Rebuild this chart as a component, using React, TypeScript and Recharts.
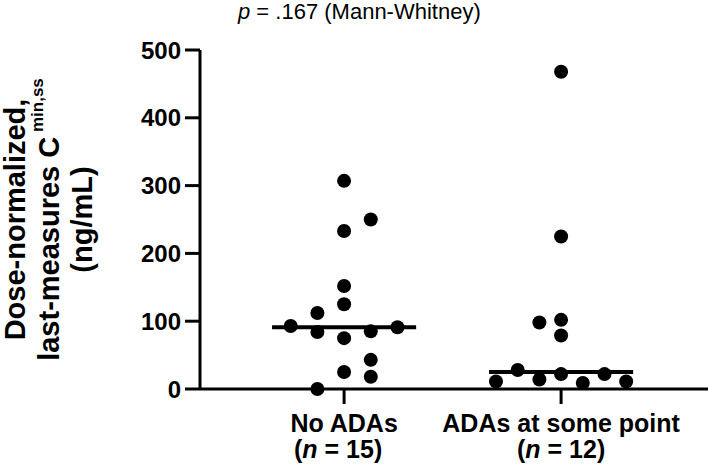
import { ReferenceLine, Scatter, ScatterChart, XAxis, YAxis } from 'recharts';

const FONT = '"Liberation Sans", Arial, Helvetica, sans-serif';

const GROUPS = ['No ADAs', 'ADAs at some point'];
const GROUP_N = [15, 12];
const Y_TICKS = [0, 100, 200, 300, 400, 500];

// values; column = horizontal slot of the dot within its group
const noAdaValues = [307, 250, 233, 152, 125, 112, 93, 84, 75, 85, 91, 43, 25, 18, 0];
const noAdaColumns = [0, 1, 0, 0, 0, -1, -2, -1, 0, 1, 2, 1, 0, 1, -1];
const adaValues = [468, 225, 98, 102, 79, 28, 11, 14, 22, 9, 22, 11];
const adaColumns = [0, 0, -1, 0, 0, -2, -3, -1, 0, 1, 2, 3];

const COLUMN_STEP = [0.123, 0.1];
const MEDIAN_HALF = 0.332;

const median = (vals: number[]) => {
  const s = [...vals].sort((a, b) => a - b);
  const m = Math.floor(s.length / 2);
  return s.length % 2 ? s[m] : (s[m - 1] + s[m]) / 2;
};

const toPoints = (vals: number[], cols: number[], g: number) =>
  vals.map((v, i) => ({ x: g + 1 + cols[i] * COLUMN_STEP[g], y: v }));

const noAdaPoints = toPoints(noAdaValues, noAdaColumns, 0);
const adaPoints = toPoints(adaValues, adaColumns, 1);
const medians = [median(noAdaValues), median(adaValues)];

const Dot = (props: any) => <circle cx={props.cx} cy={props.cy} r={7} fill="#000" />;

const XTick = (props: any) => {
  const { x, y, payload } = props;
  const g = payload.value - 1;
  return (
    <g>
      <text x={x} y={y + 26} textAnchor="middle" fontFamily={FONT} fontWeight="bold" fontSize={25} fill="#000">
        {GROUPS[g]}
      </text>
      <text x={x - (g === 0 ? 6 : 0)} y={y + 52} textAnchor="middle" fontFamily={FONT} fontWeight="bold" fontSize={25} fill="#000">
        (<tspan fontStyle="italic">n</tspan> = {GROUP_N[g]})
      </text>
    </g>
  );
};

const YLabel = (props: any) => {
  const vb = props.viewBox || { y: 50, height: 339 };
  const cy = vb.y + vb.height / 2;
  const line = (bx: number, content: any) => (
    <text
      x={bx}
      y={cy}
      transform={`rotate(-90, ${bx}, ${cy})`}
      textAnchor="middle"
      fontFamily={FONT}
      fontWeight="bold"
      fontSize={29}
      fill="#000"
    >
      {content}
    </text>
  );
  return (
    <g>
      {line(25, 'Dose-normalized,')}
      {line(59, (
        <>
          last-measures C
          <tspan fontSize={17} dy={-16}> min,ss</tspan>
        </>
      ))}
      {line(92, '(ng/mL)')}
    </g>
  );
};

export default function App() {
  return (
    <div style={{ position: 'absolute', left: 0, top: 0, width: 709, height: 466, background: '#fff' }}>
      <div
        style={{
          position: 'absolute',
          left: 238,
          top: 1,
          fontFamily: FONT,
          fontSize: 22,
          lineHeight: '22px',
          color: '#000',
          whiteSpace: 'nowrap',
        }}
      >
        <i>p</i> = .167 (Mann-Whitney)
      </div>
      <ScatterChart width={709} height={466} margin={{ top: 50, right: 1, bottom: 0, left: 0 }}>
        <XAxis
          type="number"
          dataKey="x"
          domain={[0.336, 2.677]}
          ticks={[1, 2]}
          allowDataOverflow
          axisLine={{ stroke: '#000', strokeWidth: 3 }}
          tickLine={{ stroke: '#000', strokeWidth: 3 }}
          tickSize={15}
          tick={<XTick />}
          height={77}
        />
        <YAxis
          type="number"
          dataKey="y"
          domain={[0, 500]}
          ticks={Y_TICKS}
          width={200}
          axisLine={{ stroke: '#000', strokeWidth: 3 }}
          tickLine={{ stroke: '#000', strokeWidth: 3 }}
          tickSize={15}
          tickMargin={4}
          tick={{ fill: '#000', fontFamily: FONT, fontWeight: 'bold', fontSize: 24 }}
          label={{ content: <YLabel /> }}
        />
        {medians.map((m, g) => (
          <ReferenceLine
            key={g}
            segment={[
              { x: g + 1 - MEDIAN_HALF, y: m },
              { x: g + 1 + MEDIAN_HALF, y: m },
            ]}
            stroke="#000"
            strokeWidth={4}
          />
        ))}
        <Scatter data={noAdaPoints} shape={<Dot />} isAnimationActive={false} />
        <Scatter data={adaPoints} shape={<Dot />} isAnimationActive={false} />
      </ScatterChart>
    </div>
  );
}
